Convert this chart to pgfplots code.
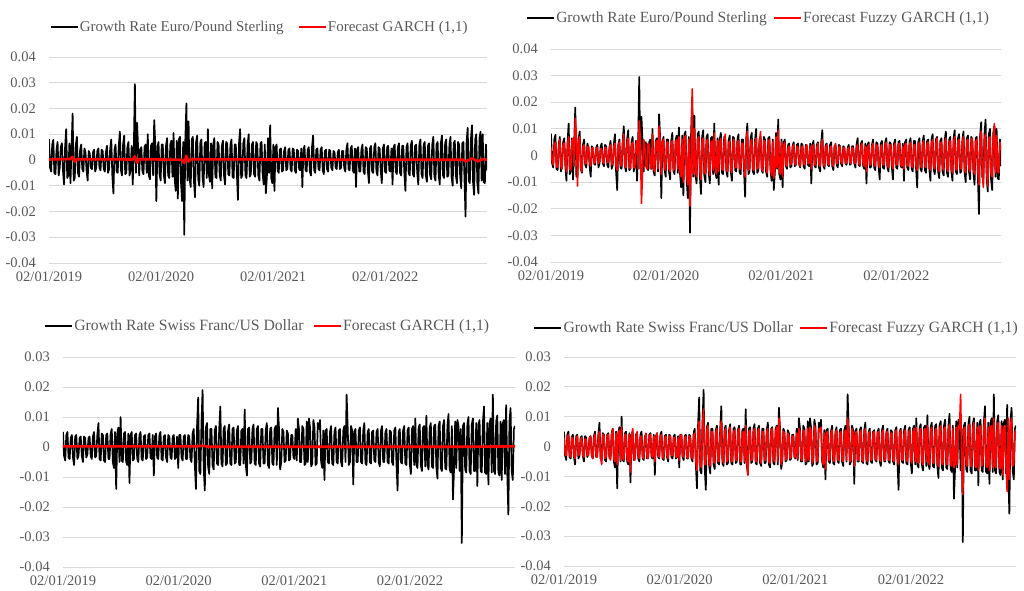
\documentclass[border=0pt]{standalone}
\usepackage{fontspec}
\setmainfont{Liberation Serif}
\usepackage{pgfplots}
\usepackage{pgfplotstable}
\pgfplotsset{compat=1.18}

\definecolor{txtgray}{HTML}{595959}
\definecolor{gridgray}{HTML}{D9D9D9}
\definecolor{fred}{HTML}{FF0000}

% Daily growth rate (y) and fuzzy GARCH(1,1) forecast (f), Euro/Pound Sterling
\pgfplotstableread{
x y f
0 0.0082 0.0030
2.5 -0.0030 -0.0020
5 -0.0045 -0.0035
7.5 0.0060 0.0040
10 0.0078 0.0050
12.5 -0.0050 -0.0045
15 -0.0055 -0.0040
17.5 0.0040 0.0035
20 0.0070 0.0060
22.5 -0.0060 -0.0040
25 -0.0030 -0.0050
27.5 0.0050 0.0045
30 0.0065 0.0045
32.5 -0.0040 -0.0030
35 -0.0095 -0.0060
37.5 0.0050 0.0040
40 0.0120 0.0070
42.5 -0.0070 -0.0050
45 -0.0060 -0.0055
47.5 0.0065 0.0055
50 -0.0090 0.0065
52.5 0.0050 -0.0040
55 0.0180 0.0140
57.5 -0.0080 0.0080
60 -0.0070 -0.0115
62.5 0.0060 0.0050
65 0.0090 0.0070
67.5 -0.0050 -0.0045
70 -0.0065 -0.0060
72.5 0.0040 0.0035
75 0.0060 0.0040
77.5 -0.0035 -0.0030
80 -0.0045 -0.0030
82.5 0.0045 0.0030
85 0.0030 0.0035
87.5 -0.0040 -0.0025
90 -0.0080 -0.0040
92.5 0.0035 0.0025
95 0.0025 0.0030
97.5 -0.0030 -0.0030
100 -0.0035 -0.0025
102.5 0.0030 0.0025
105 0.0040 0.0030
107.5 -0.0045 -0.0030
110 -0.0030 -0.0020
112.5 0.0035 0.0025
115 0.0045 0.0025
117.5 -0.0030 -0.0025
120 -0.0040 -0.0030
122.5 0.0040 0.0030
125 0.0035 0.0030
127.5 -0.0035 -0.0025
130 -0.0045 -0.0025
132.5 0.0030 0.0030
135 0.0055 0.0040
137.5 -0.0050 -0.0035
140 -0.0035 -0.0030
142.5 0.0045 0.0035
145 0.0080 0.0045
147.5 -0.0060 -0.0040
150 -0.0130 -0.0055
152.5 0.0040 0.0035
155 0.0060 0.0050
157.5 -0.0045 -0.0035
160 -0.0050 -0.0040
162.5 0.0055 0.0045
165 0.0110 0.0080
167.5 -0.0040 -0.0040
170 -0.0060 -0.0045
172.5 0.0060 0.0050
175 0.0095 0.0065
177.5 -0.0055 -0.0040
180 -0.0050 -0.0050
182.5 0.0050 0.0040
185 0.0070 0.0050
187.5 -0.0060 -0.0045
190 -0.0040 -0.0045
192.5 0.0055 0.0040
195 -0.0095 0.0055
197.5 0.0040 -0.0050
200 0.0295 0.0130
202.5 -0.0050 0.0060
205 0.0145 -0.0180
207.5 0.0050 -0.0060
210 -0.0060 0.0060
212.5 0.0040 0.0040
215 0.0050 -0.0040
217.5 -0.0045 -0.0050
220 -0.0055 0.0045
222.5 0.0050 0.0040
225 0.0060 -0.0050
227.5 -0.0050 -0.0045
230 0.0100 0.0080
232.5 -0.0060 -0.0050
235 -0.0075 -0.0060
237.5 0.0055 0.0050
240 0.0065 0.0055
242.5 -0.0060 -0.0050
245 0.0155 0.0110
247.5 0.0060 0.0050
250 -0.0160 -0.0070
252.5 0.0050 0.0045
255 0.0070 0.0060
257.5 -0.0055 -0.0050
260 -0.0080 -0.0055
262.5 0.0060 0.0050
265 0.0060 0.0050
267.5 -0.0060 -0.0050
270 -0.0090 -0.0060
272.5 0.0055 0.0050
275 0.0085 0.0055
277.5 -0.0060 -0.0055
280 -0.0070 -0.0050
282.5 0.0060 0.0050
285 0.0075 0.0060
287.5 -0.0065 -0.0050
290 0.0105 0.0070
292.5 -0.0070 -0.0060
295 -0.0120 -0.0080
297.5 0.0075 0.0060
300 -0.0150 -0.0100
302.5 0.0080 0.0065
305 0.0090 0.0075
307.5 -0.0090 -0.0070
310 -0.0160 -0.0110
312.5 0.0070 0.0060
315 -0.0290 -0.0190
317.5 0.0080 -0.0050
320 0.0220 0.0250
322.5 -0.0080 -0.0070
325 0.0150 0.0100
327.5 -0.0075 -0.0060
330 -0.0105 -0.0080
332.5 0.0080 0.0060
335 0.0090 0.0070
337.5 -0.0080 -0.0060
340 -0.0145 -0.0090
342.5 0.0070 0.0060
345 0.0095 0.0065
347.5 -0.0075 -0.0055
350 -0.0100 -0.0070
352.5 0.0070 0.0055
355 0.0080 0.0060
357.5 -0.0065 -0.0050
360 -0.0105 -0.0075
362.5 0.0065 0.0050
365 0.0070 0.0055
367.5 -0.0070 -0.0055
370 0.0120 0.0085
372.5 -0.0060 -0.0050
375 -0.0085 -0.0070
377.5 0.0065 0.0055
380 -0.0110 -0.0060
382.5 0.0060 0.0050
385 0.0085 0.0065
387.5 -0.0065 -0.0050
390 -0.0070 -0.0055
392.5 0.0070 0.0050
395 0.0060 0.0080
397.5 -0.0060 -0.0055
400 -0.0080 -0.0060
402.5 0.0055 0.0045
405 0.0075 0.0055
407.5 -0.0060 -0.0050
410 -0.0095 -0.0065
412.5 0.0070 0.0050
415 0.0065 0.0060
417.5 -0.0055 -0.0045
420 -0.0060 -0.0045
422.5 0.0060 0.0050
425 0.0080 0.0055
427.5 -0.0065 -0.0050
430 -0.0070 -0.0050
432.5 0.0060 0.0045
435 0.0060 0.0045
437.5 -0.0055 -0.0045
440 -0.0155 -0.0080
442.5 0.0065 0.0055
445 0.0120 0.0090
447.5 -0.0070 -0.0055
450 -0.0060 -0.0050
452.5 0.0065 0.0050
455 0.0085 0.0060
457.5 -0.0060 -0.0050
460 -0.0070 -0.0055
462.5 0.0060 0.0050
465 0.0100 0.0065
467.5 -0.0065 -0.0050
470 -0.0055 -0.0045
472.5 0.0060 0.0050
475 0.0070 0.0090
477.5 -0.0055 -0.0050
480 -0.0065 -0.0060
482.5 0.0070 0.0055
485 0.0060 0.0055
487.5 -0.0060 -0.0045
490 -0.0080 -0.0065
492.5 0.0065 0.0050
495 0.0070 0.0060
497.5 -0.0055 -0.0045
500 -0.0095 -0.0075
502.5 0.0060 0.0050
505 -0.0130 -0.0085
507.5 -0.0060 -0.0050
510 0.0085 0.0070
512.5 -0.0050 -0.0045
515 0.0135 0.0095
517.5 -0.0070 -0.0055
520 -0.0090 -0.0070
522.5 0.0060 0.0050
525 -0.0120 -0.0080
527.5 0.0050 0.0040
530 0.0060 0.0050
532.5 -0.0040 -0.0035
535 -0.0050 -0.0040
537.5 0.0040 0.0030
540 0.0045 0.0035
542.5 -0.0045 -0.0035
545 -0.0040 -0.0030
547.5 0.0035 0.0030
550 0.0050 0.0040
552.5 -0.0040 -0.0030
555 -0.0035 -0.0035
557.5 0.0040 0.0035
560 0.0045 0.0030
562.5 -0.0035 -0.0030
565 -0.0045 -0.0040
567.5 0.0045 0.0030
570 0.0040 0.0035
572.5 -0.0040 -0.0030
575 -0.0050 -0.0035
577.5 0.0040 0.0030
580 0.0035 0.0040
582.5 -0.0035 -0.0030
585 -0.0040 -0.0030
587.5 0.0045 0.0035
590 -0.0105 -0.0050
592.5 0.0040 0.0030
595 0.0055 0.0040
597.5 -0.0040 -0.0035
600 -0.0045 -0.0035
602.5 0.0040 0.0030
605 0.0050 0.0045
607.5 -0.0045 -0.0035
610 -0.0060 -0.0040
612.5 0.0050 0.0035
615 0.0095 0.0060
617.5 -0.0040 -0.0035
620 -0.0050 -0.0040
622.5 0.0040 0.0030
625 0.0045 0.0040
627.5 -0.0035 -0.0030
630 -0.0040 -0.0035
632.5 0.0040 0.0030
635 0.0050 0.0035
637.5 -0.0040 -0.0030
640 -0.0055 -0.0040
642.5 0.0035 0.0030
645 0.0040 0.0045
647.5 -0.0035 -0.0030
650 -0.0045 -0.0030
652.5 0.0040 0.0030
655 0.0035 0.0035
657.5 -0.0030 -0.0025
660 -0.0040 -0.0030
662.5 0.0035 0.0025
665 0.0030 0.0030
667.5 -0.0030 -0.0030
670 -0.0035 -0.0025
672.5 0.0030 0.0025
675 0.0040 0.0030
677.5 -0.0035 -0.0025
680 -0.0030 -0.0030
682.5 0.0035 0.0030
685 0.0035 0.0025
687.5 -0.0030 -0.0025
690 -0.0045 -0.0030
692.5 0.0040 0.0030
695 0.0065 0.0040
697.5 -0.0035 -0.0030
700 -0.0040 -0.0035
702.5 0.0045 0.0035
705 0.0055 0.0045
707.5 -0.0040 -0.0030
710 -0.0050 -0.0040
712.5 0.0045 0.0035
715 -0.0105 -0.0060
717.5 0.0040 0.0030
720 0.0050 0.0040
722.5 -0.0045 -0.0035
725 -0.0045 -0.0035
727.5 0.0040 0.0035
730 0.0060 0.0045
732.5 -0.0045 -0.0035
735 -0.0055 -0.0040
737.5 0.0050 0.0040
740 0.0045 0.0035
742.5 -0.0040 -0.0035
745 -0.0090 -0.0045
747.5 0.0045 0.0035
750 0.0055 0.0040
752.5 -0.0045 -0.0035
755 -0.0050 -0.0035
757.5 0.0050 0.0040
760 0.0065 0.0050
762.5 -0.0045 -0.0035
765 -0.0060 -0.0045
767.5 0.0050 0.0040
770 0.0045 0.0040
772.5 -0.0040 -0.0035
775 -0.0090 -0.0050
777.5 0.0045 0.0035
780 0.0060 0.0045
782.5 -0.0045 -0.0035
785 -0.0050 -0.0035
787.5 0.0050 0.0040
790 0.0055 0.0045
792.5 -0.0040 -0.0035
795 -0.0045 -0.0040
797.5 0.0045 0.0035
800 -0.0095 -0.0050
802.5 0.0050 0.0040
805 0.0060 0.0045
807.5 -0.0045 -0.0035
810 -0.0055 -0.0040
812.5 0.0050 0.0040
815 0.0065 0.0050
817.5 -0.0050 -0.0040
820 -0.0060 -0.0045
822.5 0.0055 0.0040
825 0.0055 0.0040
827.5 -0.0050 -0.0040
830 -0.0120 -0.0055
832.5 0.0050 0.0040
835 0.0065 0.0050
837.5 -0.0050 -0.0040
840 -0.0060 -0.0045
842.5 0.0055 0.0045
845 0.0075 0.0055
847.5 -0.0055 -0.0040
850 -0.0065 -0.0045
852.5 0.0055 0.0045
855 0.0060 0.0050
857.5 -0.0050 -0.0040
860 -0.0095 -0.0055
862.5 0.0060 0.0045
865 0.0080 0.0060
867.5 -0.0055 -0.0045
870 -0.0070 -0.0050
872.5 0.0060 0.0045
875 0.0070 0.0065
877.5 -0.0060 -0.0050
880 -0.0085 -0.0060
882.5 0.0055 0.0045
885 0.0065 0.0050
887.5 -0.0060 -0.0045
890 -0.0075 -0.0055
892.5 0.0060 0.0050
895 0.0090 0.0065
897.5 -0.0065 -0.0050
900 -0.0080 -0.0060
902.5 0.0060 0.0050
905 0.0070 0.0055
907.5 -0.0060 -0.0050
910 -0.0095 -0.0065
912.5 0.0065 0.0050
915 0.0095 0.0070
917.5 -0.0060 -0.0050
920 -0.0070 -0.0055
922.5 0.0065 0.0055
925 0.0080 0.0060
927.5 -0.0065 -0.0050
930 -0.0060 -0.0050
932.5 0.0060 0.0050
935 0.0090 0.0070
937.5 -0.0065 -0.0055
940 -0.0100 -0.0065
942.5 0.0065 0.0055
945 0.0075 0.0060
947.5 -0.0060 -0.0050
950 -0.0090 -0.0060
952.5 0.0070 0.0055
955 0.0060 0.0065
957.5 -0.0065 -0.0055
960 -0.0110 -0.0070
962.5 0.0065 0.0050
965 0.0070 0.0060
967.5 -0.0070 -0.0060
970 -0.0220 -0.0110
972.5 0.0070 0.0060
975 0.0125 0.0090
977.5 -0.0080 -0.0065
980 -0.0090 -0.0120
982.5 0.0080 0.0065
985 0.0135 0.0080
987.5 -0.0085 -0.0060
990 -0.0135 -0.0115
992.5 0.0080 0.0065
995 0.0100 0.0070
997.5 -0.0090 -0.0070
1000 -0.0130 -0.0080
1002.5 0.0085 0.0070
1005 0.0110 0.0120
1007.5 -0.0080 -0.0065
1010 0.0100 0.0075
1012.5 -0.0085 -0.0060
1015 -0.0090 -0.0065
1017.5 0.0060 0.0050
1020 -0.0040 0.0020
}\eurtable

% Daily growth rate (y) and fuzzy GARCH(1,1) forecast (f), Swiss Franc/US Dollar
\pgfplotstableread{
x y f
0 0.0050 0.0030
2.5 -0.0030 -0.0025
5 -0.0045 -0.0030
7.5 0.0040 0.0030
10 0.0050 0.0040
12.5 -0.0035 -0.0030
15 -0.0040 -0.0035
17.5 0.0030 0.0030
20 0.0040 0.0030
22.5 -0.0035 -0.0030
25 -0.0060 -0.0040
27.5 0.0035 0.0030
30 0.0040 0.0035
32.5 -0.0040 -0.0030
35 -0.0030 -0.0025
37.5 0.0030 0.0025
40 0.0035 0.0030
42.5 -0.0030 -0.0030
45 -0.0050 -0.0035
47.5 0.0035 0.0025
50 0.0030 0.0025
52.5 -0.0035 -0.0030
55 -0.0025 -0.0030
57.5 0.0030 0.0025
60 0.0035 0.0035
62.5 -0.0030 -0.0030
65 -0.0040 -0.0040
67.5 0.0035 0.0030
70 0.0050 0.0040
72.5 -0.0035 -0.0030
75 -0.0030 -0.0035
77.5 0.0040 0.0035
80 0.0080 0.0050
82.5 -0.0040 -0.0035
85 -0.0045 -0.0060
87.5 0.0045 0.0040
90 0.0040 0.0040
92.5 -0.0045 -0.0040
95 -0.0050 -0.0035
97.5 0.0040 0.0035
100 0.0045 0.0040
102.5 -0.0040 -0.0035
105 -0.0040 -0.0045
107.5 0.0045 0.0040
110 0.0060 0.0060
112.5 -0.0050 -0.0040
115 -0.0070 -0.0050
117.5 0.0050 0.0045
120 -0.0140 -0.0060
122.5 0.0045 0.0040
125 0.0065 0.0055
127.5 -0.0050 -0.0045
130 0.0100 0.0065
132.5 -0.0045 -0.0040
135 -0.0050 -0.0045
137.5 0.0045 0.0040
140 0.0050 0.0040
142.5 -0.0050 -0.0040
145 -0.0060 -0.0050
147.5 0.0045 0.0040
150 -0.0120 -0.0085
152.5 0.0040 0.0035
155 0.0050 0.0060
157.5 -0.0045 -0.0040
160 -0.0040 -0.0045
162.5 0.0040 0.0035
165 0.0045 0.0050
167.5 -0.0040 -0.0035
170 -0.0050 -0.0040
172.5 0.0040 0.0035
175 0.0050 0.0035
177.5 -0.0040 -0.0035
180 -0.0045 -0.0040
182.5 0.0035 0.0030
185 0.0040 0.0045
187.5 -0.0040 -0.0035
190 -0.0035 -0.0040
192.5 0.0040 0.0035
195 0.0045 0.0040
197.5 -0.0035 -0.0030
200 -0.0040 -0.0035
202.5 0.0040 0.0035
205 -0.0095 -0.0050
207.5 0.0035 0.0030
210 0.0045 0.0045
212.5 -0.0035 -0.0030
215 -0.0040 -0.0035
217.5 0.0040 0.0035
220 0.0050 0.0040
222.5 -0.0040 -0.0035
225 -0.0045 -0.0040
227.5 0.0035 0.0030
230 0.0040 0.0035
232.5 -0.0035 -0.0030
235 -0.0050 -0.0040
237.5 0.0040 0.0035
240 0.0035 0.0035
242.5 -0.0035 -0.0030
245 -0.0040 -0.0030
247.5 0.0035 0.0030
250 0.0040 0.0030
252.5 -0.0040 -0.0035
255 -0.0035 -0.0035
257.5 0.0035 0.0030
260 -0.0070 -0.0045
262.5 0.0040 0.0035
265 0.0040 0.0040
267.5 -0.0035 -0.0030
270 -0.0045 -0.0035
272.5 0.0035 0.0030
275 0.0040 0.0035
277.5 -0.0040 -0.0035
280 -0.0040 -0.0040
282.5 0.0040 0.0035
285 0.0035 0.0030
287.5 -0.0040 -0.0035
290 -0.0050 -0.0040
292.5 0.0045 0.0035
295 0.0060 0.0045
297.5 -0.0060 -0.0050
300 -0.0140 -0.0080
302.5 0.0070 0.0060
305 0.0165 0.0085
307.5 -0.0080 -0.0060
310 -0.0090 -0.0070
312.5 0.0080 0.0065
315 0.0190 0.0125
317.5 -0.0070 -0.0060
320 -0.0145 -0.0060
322.5 0.0065 0.0055
325 0.0080 0.0070
327.5 -0.0065 -0.0055
330 -0.0090 -0.0065
332.5 0.0060 0.0050
335 0.0060 0.0050
337.5 -0.0060 -0.0050
340 -0.0075 -0.0055
342.5 0.0055 0.0045
345 0.0070 0.0060
347.5 -0.0055 -0.0050
350 -0.0060 -0.0050
352.5 0.0060 0.0050
355 0.0135 0.0085
357.5 -0.0055 -0.0045
360 -0.0065 -0.0055
362.5 0.0060 0.0050
365 0.0070 0.0060
367.5 -0.0060 -0.0050
370 -0.0055 -0.0045
372.5 0.0055 0.0045
375 0.0075 0.0065
377.5 -0.0055 -0.0050
380 -0.0060 -0.0050
382.5 0.0060 0.0050
385 0.0065 0.0055
387.5 -0.0055 -0.0045
390 -0.0050 -0.0045
392.5 0.0055 0.0050
395 0.0070 0.0060
397.5 -0.0060 -0.0050
400 -0.0060 -0.0050
402.5 0.0055 0.0045
405 0.0060 0.0050
407.5 -0.0055 -0.0050
410 0.0125 0.0070
412.5 -0.0060 -0.0050
415 -0.0095 -0.0095
417.5 0.0060 0.0050
420 0.0065 0.0055
422.5 -0.0055 -0.0045
425 -0.0050 -0.0045
427.5 0.0060 0.0050
430 0.0075 0.0060
432.5 -0.0055 -0.0050
435 -0.0060 -0.0050
437.5 0.0060 0.0050
440 0.0070 0.0060
442.5 -0.0055 -0.0045
445 -0.0065 -0.0055
447.5 0.0060 0.0050
450 0.0060 0.0050
452.5 -0.0055 -0.0045
455 -0.0055 -0.0045
457.5 0.0055 0.0050
460 0.0080 0.0060
462.5 -0.0060 -0.0050
465 -0.0070 -0.0055
467.5 0.0060 0.0050
470 0.0065 0.0060
472.5 -0.0055 -0.0045
475 -0.0060 -0.0050
477.5 0.0060 0.0050
480 0.0070 0.0065
482.5 -0.0060 -0.0050
485 0.0130 0.0095
487.5 0.0060 0.0050
490 -0.0075 -0.0060
492.5 -0.0050 -0.0045
495 0.0060 0.0050
497.5 0.0050 0.0045
500 -0.0050 -0.0045
502.5 -0.0045 -0.0040
505 0.0055 0.0045
507.5 0.0045 0.0040
510 -0.0045 -0.0040
512.5 -0.0040 -0.0035
515 0.0040 0.0035
517.5 0.0040 0.0035
520 -0.0035 -0.0035
522.5 -0.0040 -0.0035
525 0.0060 0.0045
527.5 -0.0045 -0.0040
530 0.0095 0.0060
532.5 0.0060 0.0050
535 -0.0050 -0.0045
537.5 -0.0050 -0.0045
540 0.0070 0.0055
542.5 0.0060 0.0050
545 -0.0060 -0.0050
547.5 -0.0055 -0.0045
550 0.0085 0.0060
552.5 -0.0050 -0.0045
555 0.0095 0.0065
557.5 0.0065 0.0055
560 -0.0065 -0.0055
562.5 -0.0055 -0.0045
565 0.0090 0.0070
567.5 0.0065 0.0055
570 -0.0060 -0.0050
572.5 -0.0055 -0.0045
575 0.0080 0.0060
577.5 0.0060 0.0050
580 0.0090 0.0065
582.5 -0.0050 -0.0045
585 -0.0070 -0.0060
587.5 0.0055 0.0045
590 -0.0110 -0.0075
592.5 0.0055 0.0045
595 0.0060 0.0050
597.5 -0.0050 -0.0045
600 -0.0055 -0.0045
602.5 0.0050 0.0045
605 0.0070 0.0055
607.5 -0.0055 -0.0045
610 -0.0060 -0.0050
612.5 0.0050 0.0045
615 0.0065 0.0055
617.5 -0.0050 -0.0045
620 -0.0055 -0.0045
622.5 0.0055 0.0045
625 0.0060 0.0050
627.5 -0.0050 -0.0045
630 -0.0065 -0.0050
632.5 0.0055 0.0045
635 0.0070 0.0055
637.5 -0.0050 -0.0045
640 0.0175 0.0095
642.5 0.0060 0.0050
645 -0.0060 -0.0050
647.5 -0.0050 -0.0045
650 0.0070 0.0060
652.5 0.0055 0.0045
655 -0.0125 -0.0065
657.5 0.0050 0.0045
660 0.0060 0.0050
662.5 -0.0050 -0.0045
665 -0.0050 -0.0045
667.5 0.0055 0.0045
670 0.0065 0.0055
672.5 -0.0050 -0.0045
675 -0.0055 -0.0050
677.5 0.0055 0.0045
680 0.0080 0.0060
682.5 -0.0055 -0.0045
685 -0.0060 -0.0050
687.5 0.0050 0.0045
690 0.0060 0.0050
692.5 -0.0050 -0.0045
695 -0.0055 -0.0045
697.5 0.0050 0.0045
700 0.0055 0.0050
702.5 -0.0045 -0.0040
705 -0.0050 -0.0045
707.5 0.0050 0.0045
710 0.0060 0.0050
712.5 -0.0050 -0.0045
715 -0.0065 -0.0050
717.5 0.0055 0.0045
720 0.0070 0.0055
722.5 -0.0050 -0.0045
725 -0.0050 -0.0045
727.5 0.0050 0.0045
730 0.0060 0.0050
732.5 -0.0050 -0.0045
735 -0.0055 -0.0045
737.5 0.0055 0.0045
740 0.0050 0.0045
742.5 -0.0050 -0.0045
745 -0.0060 -0.0050
747.5 0.0055 0.0045
750 0.0065 0.0055
752.5 -0.0055 -0.0045
755 -0.0145 -0.0060
757.5 0.0050 0.0045
760 0.0060 0.0055
762.5 -0.0050 -0.0045
765 -0.0055 -0.0045
767.5 0.0055 0.0045
770 0.0070 0.0055
772.5 -0.0055 -0.0045
775 -0.0060 -0.0050
777.5 0.0055 0.0045
780 0.0065 0.0055
782.5 -0.0055 -0.0045
785 -0.0090 -0.0055
787.5 0.0060 0.0050
790 0.0070 0.0060
792.5 -0.0060 -0.0050
795 0.0095 0.0065
797.5 -0.0060 -0.0050
800 -0.0070 -0.0055
802.5 0.0065 0.0055
805 0.0075 0.0060
807.5 -0.0060 -0.0050
810 -0.0080 -0.0060
812.5 0.0065 0.0055
815 0.0070 0.0060
817.5 -0.0065 -0.0050
820 0.0105 0.0070
822.5 -0.0060 -0.0050
825 -0.0075 -0.0060
827.5 0.0065 0.0055
830 0.0080 0.0065
832.5 -0.0065 -0.0055
835 -0.0070 -0.0055
837.5 0.0070 0.0055
840 0.0075 0.0060
842.5 -0.0065 -0.0055
845 -0.0105 -0.0065
847.5 0.0070 0.0055
850 0.0085 0.0070
852.5 -0.0070 -0.0055
855 -0.0080 -0.0060
857.5 0.0070 0.0060
860 0.0090 0.0065
862.5 -0.0070 -0.0055
865 -0.0075 -0.0060
867.5 0.0070 0.0060
870 0.0110 0.0075
872.5 -0.0075 -0.0060
875 -0.0085 -0.0065
877.5 0.0070 0.0060
880 -0.0175 -0.0070
882.5 -0.0070 -0.0060
885 0.0085 0.0065
887.5 -0.0070 -0.0060
890 0.0090 0.0070
892.5 0.0070 0.0060
895 -0.0080 0.0175
897.5 0.0060 -0.0050
900 -0.0320 -0.0160
902.5 0.0070 0.0060
905 0.0080 0.0065
907.5 -0.0075 -0.0060
910 -0.0085 -0.0065
912.5 0.0075 0.0060
915 0.0100 0.0075
917.5 -0.0080 -0.0065
920 -0.0090 -0.0065
922.5 0.0075 0.0060
925 0.0095 0.0080
927.5 -0.0080 -0.0065
930 -0.0080 -0.0070
932.5 0.0080 0.0065
935 -0.0130 -0.0080
937.5 0.0075 0.0060
940 0.0090 0.0070
942.5 -0.0080 -0.0065
945 -0.0085 -0.0060
947.5 0.0080 0.0065
950 0.0135 0.0095
952.5 -0.0085 -0.0065
955 -0.0090 -0.0070
957.5 0.0080 0.0065
960 -0.0125 -0.0080
962.5 0.0080 0.0065
965 0.0095 0.0070
967.5 -0.0085 -0.0070
970 0.0175 0.0095
972.5 -0.0080 -0.0065
975 -0.0090 -0.0070
977.5 0.0085 0.0070
980 0.0105 0.0080
982.5 -0.0085 -0.0070
985 -0.0095 -0.0075
987.5 0.0085 0.0070
990 -0.0110 -0.0095
992.5 0.0080 0.0065
995 0.0090 0.0070
997.5 -0.0090 -0.0070
1000 0.0140 -0.0150
1002.5 -0.0085 0.0095
1005 -0.0225 -0.0110
1007.5 0.0085 0.0070
1010 0.0130 0.0095
1012.5 -0.0080 -0.0065
1015 -0.0110 -0.0060
1017.5 0.0060 0.0050
1020 0.0070 0.0045
}\chftable

\pgfplotsset{
  panel/.style={
    scale only axis,
    anchor=south west,
    xmin=0, xmax=1020,
    xtick={0,261,522,783},
    xticklabels={02/01/2019,02/01/2020,02/01/2021,02/01/2022},
    scaled y ticks=false,
    axis line style={draw=none},
    major tick length=0pt,
    ymajorgrids,
    grid style={color=gridgray, line width=0.8pt},
    tick label style={font=\fontsize{14.5}{17}\selectfont, text=txtgray},
    yticklabel style={anchor=east, inner sep=0pt, xshift=-13pt},
    xticklabel style={anchor=north, inner sep=0pt, yshift=-9pt},
    legend columns=2,
    legend cell align=left,
    legend image code/.code={\draw[##1, line width=2.4pt] (0pt,0pt) -- (27pt,0pt);},
    legend style={draw=none, fill=none, at={(0.5,1)}, anchor=center,
      font=\fontsize{15}{18}\selectfont, text=txtgray,
      nodes={inner sep=1pt}},
  },
  obs/.style={black, line width=1.7pt, line join=round},
  fz/.style={fred, line width=1.6pt, line join=round},
  gr/.style={fred, line width=2.6pt, line join=round},
}

\begin{document}
\begin{tikzpicture}
\path[use as bounding box] (0,0) rectangle (1024pt,590pt);

% Euro/Pound Sterling with GARCH(1,1)
\begin{axis}[panel, at={(49pt,327pt)}, width=438pt, height=206pt,
  ymin=-0.04, ymax=0.04,
  ytick={-0.04,-0.03,-0.02,-0.01,0,0.01,0.02,0.03,0.04},
  yticklabels={-0.04,-0.03,-0.02,-0.01,0,0.01,0.02,0.03,0.04},
  legend style={xshift=-9pt, yshift=30pt,
    /tikz/every even column/.append style={column sep=13pt}}]
\addplot[obs] table[x=x, y=y] {\eurtable};
\addlegendentry{Growth Rate Euro/Pound Sterling}
\addplot[gr] coordinates {(0,0.0002)(50,0.0004)(55,0.0012)(60,-0.0006)(65,0.0003)
  (195,0.0002)(200,0.0014)(205,-0.0010)(210,0.0003)(310,0.0001)(315,-0.0012)
  (320,0.0016)(325,-0.0006)(330,0.0003)(500,0.0002)(965,0.0001)(970,-0.0006)
  (985,0.0006)(1000,-0.0005)(1010,0.0004)(1020,0.0001)};
\addlegendentry{Forecast GARCH (1,1)}
\end{axis}

% Euro/Pound Sterling with fuzzy GARCH(1,1)
\begin{axis}[panel, at={(551pt,328pt)}, width=450pt, height=213pt,
  ymin=-0.04, ymax=0.04,
  ytick={-0.04,-0.03,-0.02,-0.01,0,0.01,0.02,0.03,0.04},
  yticklabels={-0.04,-0.03,-0.02,-0.01,0,0.01,0.02,0.03,0.04},
  legend style={xshift=-18pt, yshift=31pt, font=\fontsize{15.5}{18}\selectfont,
    /tikz/every even column/.append style={column sep=5pt}}]
\addplot[obs] table[x=x, y=y] {\eurtable};
\addlegendentry{Growth Rate Euro/Pound Sterling}
\addplot[fz] table[x=x, y=f] {\eurtable};
\addlegendentry{Forecast Fuzzy GARCH (1,1)}
\end{axis}

% Swiss Franc/US Dollar with GARCH(1,1)
\begin{axis}[panel, at={(63pt,23pt)}, width=452pt, height=210pt,
  ymin=-0.04, ymax=0.03,
  ytick={-0.04,-0.03,-0.02,-0.01,0,0.01,0.02,0.03},
  yticklabels={-0.04,-0.03,-0.02,-0.01,0,0.01,0.02,0.03},
  legend style={xshift=-22pt, yshift=31pt, font=\fontsize{15.7}{18}\selectfont,
    /tikz/every even column/.append style={column sep=8pt}}]
\addplot[obs] table[x=x, y=y] {\chftable};
\addlegendentry{Growth Rate Swiss Franc/US Dollar}
\addplot[gr] coordinates {(0,0.0002)(300,0.0002)(315,0.0004)(330,0.0001)
  (900,0.0001)(1020,0.0002)};
\addlegendentry{Forecast GARCH (1,1)}
\end{axis}

% Swiss Franc/US Dollar with fuzzy GARCH(1,1)
\begin{axis}[panel, at={(564pt,24pt)}, width=452pt, height=209pt,
  ymin=-0.04, ymax=0.03,
  ytick={-0.04,-0.03,-0.02,-0.01,0,0.01,0.02,0.03},
  yticklabels={-0.04,-0.03,-0.02,-0.01,0,0.01,0.02,0.03},
  legend style={xshift=-14pt, yshift=29pt, font=\fontsize{15.7}{18}\selectfont,
    /tikz/every even column/.append style={column sep=5pt}}]
\addplot[obs] table[x=x, y=y] {\chftable};
\addlegendentry{Growth Rate Swiss Franc/US Dollar}
\addplot[fz] table[x=x, y=f] {\chftable};
\addlegendentry{Forecast Fuzzy GARCH (1,1)}
\end{axis}
\end{tikzpicture}
\end{document}
